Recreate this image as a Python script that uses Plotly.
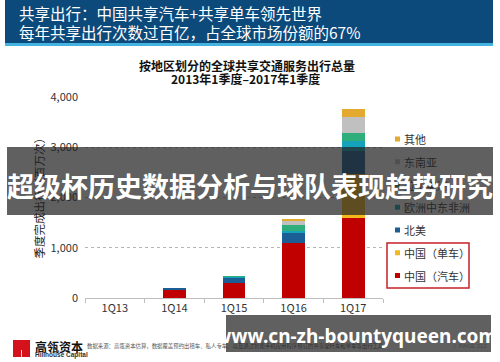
import plotly.graph_objects as go

# ---------------- data ----------------
quarters = ["1Q13", "1Q14", "1Q15", "1Q16", "1Q17"]
series_names = ["中国（汽车）", "中国（单车）", "北美", "欧洲中东非洲", "拉丁美洲", "东南亚", "其他"]
china_car = [0, 170, 295, 1090, 1595]
china_bike = [0, 0, 0, 0, 870]
north_america = [0, 25, 115, 200, 455]
emea = [0, 0, 15, 40, 200]
latam = [0, 0, 10, 125, 167]
se_asia = [0, 0, 0, 80, 312]
others = [0, 0, 0, 40, 167]
series_values = [china_car, china_bike, north_america, emea, latam, se_asia, others]
series_colors = ["#c00000", "#f4b91f", "#1b5e95", "#15a2bb", "#2fae7c", "#c0c0c0", "#e3aa2f"]

y_ticks = [0, 1000, 2000, 3000, 4000]
y_tick_text = ["0", "1,000", "2,000", "3,000", "4,000"]

header_line1 = "共享出行：中国共享汽车+共享单车领先世界"
header_line2 = "每年共享出行次数过百亿，占全球市场份额的67%"
chart_title1 = "按地区划分的全球共享交通服务出行总量"
chart_title2 = "2013年1季度–2017年1季度"
y_title = "季度完成出行（百万次）"
overlay_text = "超级杯历史数据分析与球队表现趋势研究"
watermark = "www.cn-zh-bountyqueen.com"
footnote = "数据来源：高瓴资本估算，数据覆盖预约出租车、私人专车、以及通过智能手机应用程序预订的共享摩托车和单车等出行工具"

# ---------------- geometry helpers ----------------
W, H = 500, 362
L, R, T, B = 85, 383, 97, 298
def px(x):
    return (x - L) / (R - L)
def py(y):
    return (B - y) / (B - T)

FONT = "Noto Sans CJK SC"

fig = go.Figure()
for name, vals, col in zip(series_names, series_values, series_colors):
    fig.add_trace(go.Bar(x=quarters, y=vals, name=name, marker=dict(color=col, line=dict(width=0)),
                         showlegend=False))

shapes = []
annotations = []

# header
shapes.append(dict(type="rect", xref="paper", yref="paper", x0=px(5), x1=px(493), y0=py(0), y1=py(43),
                   fillcolor="#0c4a7b", line=dict(width=0), layer="above"))
shapes.append(dict(type="rect", xref="paper", yref="paper", x0=px(5), x1=px(493), y0=py(43), y1=py(46),
                   fillcolor="#45b3e0", line=dict(width=0), layer="above"))
annotations.append(dict(text=header_line1, x=px(17), y=py(13.5), xref="paper", yref="paper",
                        xanchor="left", yanchor="middle", showarrow=False,
                        font=dict(family=FONT, size=15.5, color="white")))
annotations.append(dict(text=header_line2, x=px(17), y=py(31.5), xref="paper", yref="paper",
                        xanchor="left", yanchor="middle", showarrow=False,
                        font=dict(family=FONT, size=15.5, color="white")))

# chart title
annotations.append(dict(text=chart_title1, x=px(247), y=py(65), xref="paper", yref="paper",
                        xanchor="center", yanchor="middle", showarrow=False,
                        font=dict(family=FONT, size=12, color="#111", weight="bold")))
annotations.append(dict(text=chart_title2, x=px(245), y=py(78.5), xref="paper", yref="paper",
                        xanchor="center", yanchor="middle", showarrow=False,
                        font=dict(family=FONT, size=12, color="#111", weight="bold")))

# y title
annotations.append(dict(text=y_title, x=px(38), y=py(195.5), xref="paper", yref="paper",
                        xanchor="center", yanchor="middle", showarrow=False, textangle=-90,
                        font=dict(family=FONT, size=11.5, color="#222")))

# custom legend (top to bottom)
legend_order = list(range(len(series_names)))[::-1]
for i, idx in enumerate(legend_order):
    yc = 139 + i * 22.75
    shapes.append(dict(type="rect", xref="paper", yref="paper", x0=px(395), x1=px(400),
                       y0=py(yc - 2.5), y1=py(yc + 2.5), fillcolor=series_colors[idx], line=dict(width=0)))
    annotations.append(dict(text=series_names[idx], x=px(402), y=py(yc), xref="paper", yref="paper",
                            xanchor="left", yanchor="middle", showarrow=False,
                            font=dict(family=FONT, size=11, color="#333")))
shapes.append(dict(type="rect", xref="paper", yref="paper", x0=px(387), x1=px(469), y0=py(243), y1=py(288),
                   fillcolor="rgba(0,0,0,0)", line=dict(color="#c8202a", width=1.5)))

# logo
shapes.append(dict(type="rect", xref="paper", yref="paper", x0=px(13), x1=px(30), y0=py(340), y1=py(357),
                   fillcolor="#d5121b", line=dict(width=0)))
shapes.append(dict(type="line", xref="paper", yref="paper", x0=px(21.5), x1=px(21.5), y0=py(350), y1=py(357),
                   line=dict(color="white", width=0.8)))
annotations.append(dict(text="高瓴资本", x=px(33), y=py(346.5), xref="paper", yref="paper",
                        xanchor="left", yanchor="middle", showarrow=False,
                        font=dict(family=FONT, size=12, color="#111", weight="bold")))
annotations.append(dict(text="Hillhouse Capital", x=px(33), y=py(355), xref="paper", yref="paper",
                        xanchor="left", yanchor="middle", showarrow=False,
                        font=dict(family="Liberation Sans", size=6.5, color="#333", weight="bold")))
annotations.append(dict(text=footnote, x=px(85), y=py(345.5), xref="paper", yref="paper",
                        xanchor="left", yanchor="middle", showarrow=False,
                        font=dict(family=FONT, size=5.4, color="#555")))
annotations.append(dict(text="|  PAGE 212", x=px(452), y=py(346), xref="paper", yref="paper",
                        xanchor="left", yanchor="middle", showarrow=False,
                        font=dict(family="Liberation Sans", size=6, color="#aaa")))

# overlay band
annotations.append(dict(text=" ", x=px(250), y=py(181), xref="paper", yref="paper",
                        xanchor="center", yanchor="middle", showarrow=False,
                        width=486, height=68, borderpad=0, borderwidth=0,
                        bgcolor="rgba(35,35,35,0.72)", font=dict(size=10)))
annotations.append(dict(text=overlay_text, x=px(250), y=py(185), xref="paper", yref="paper",
                        xanchor="center", yanchor="middle", showarrow=False,
                        font=dict(family=FONT, size=27, color="white", weight="bold")))

# watermark box
annotations.append(dict(text=" ", x=px(358.5), y=py(333.5), xref="paper", yref="paper",
                        xanchor="center", yanchor="middle", showarrow=False,
                        width=265, height=37, borderpad=0, borderwidth=0,
                        bgcolor="rgba(35,35,35,0.72)", font=dict(size=10)))
annotations.append(dict(text=watermark, x=px(356), y=py(336), xref="paper", yref="paper",
                        xanchor="center", yanchor="middle", showarrow=False,
                        font=dict(family="Noto Sans", size=19, color="white", weight="bold")))

fig.update_layout(
    width=W, height=H,
    margin=dict(l=L, r=W - R, t=T, b=H - B, pad=0),
    paper_bgcolor="white", plot_bgcolor="white",
    barmode="stack", bargap=0.62,
    showlegend=False,
    shapes=shapes, annotations=annotations,
    font=dict(family=FONT, size=11, color="#333"),
)
fig.update_xaxes(type="category", showline=True, linecolor="#bfbfbf", linewidth=1,
                 ticks="outside", ticklen=4, tickcolor="#bfbfbf", tickson="boundaries",
                 showgrid=False, tickfont=dict(family=FONT, size=11, color="#333"))
fig.update_yaxes(range=[0, 4000], tickvals=y_ticks, ticktext=y_tick_text, showgrid=True,
                 gridcolor="#b5b5b5", griddash="dot", gridwidth=1, zeroline=False, showline=False,
                 ticks="", ticklabelstandoff=6, tickfont=dict(family=FONT, size=11, color="#333"))

fig.write_html("out.html")
